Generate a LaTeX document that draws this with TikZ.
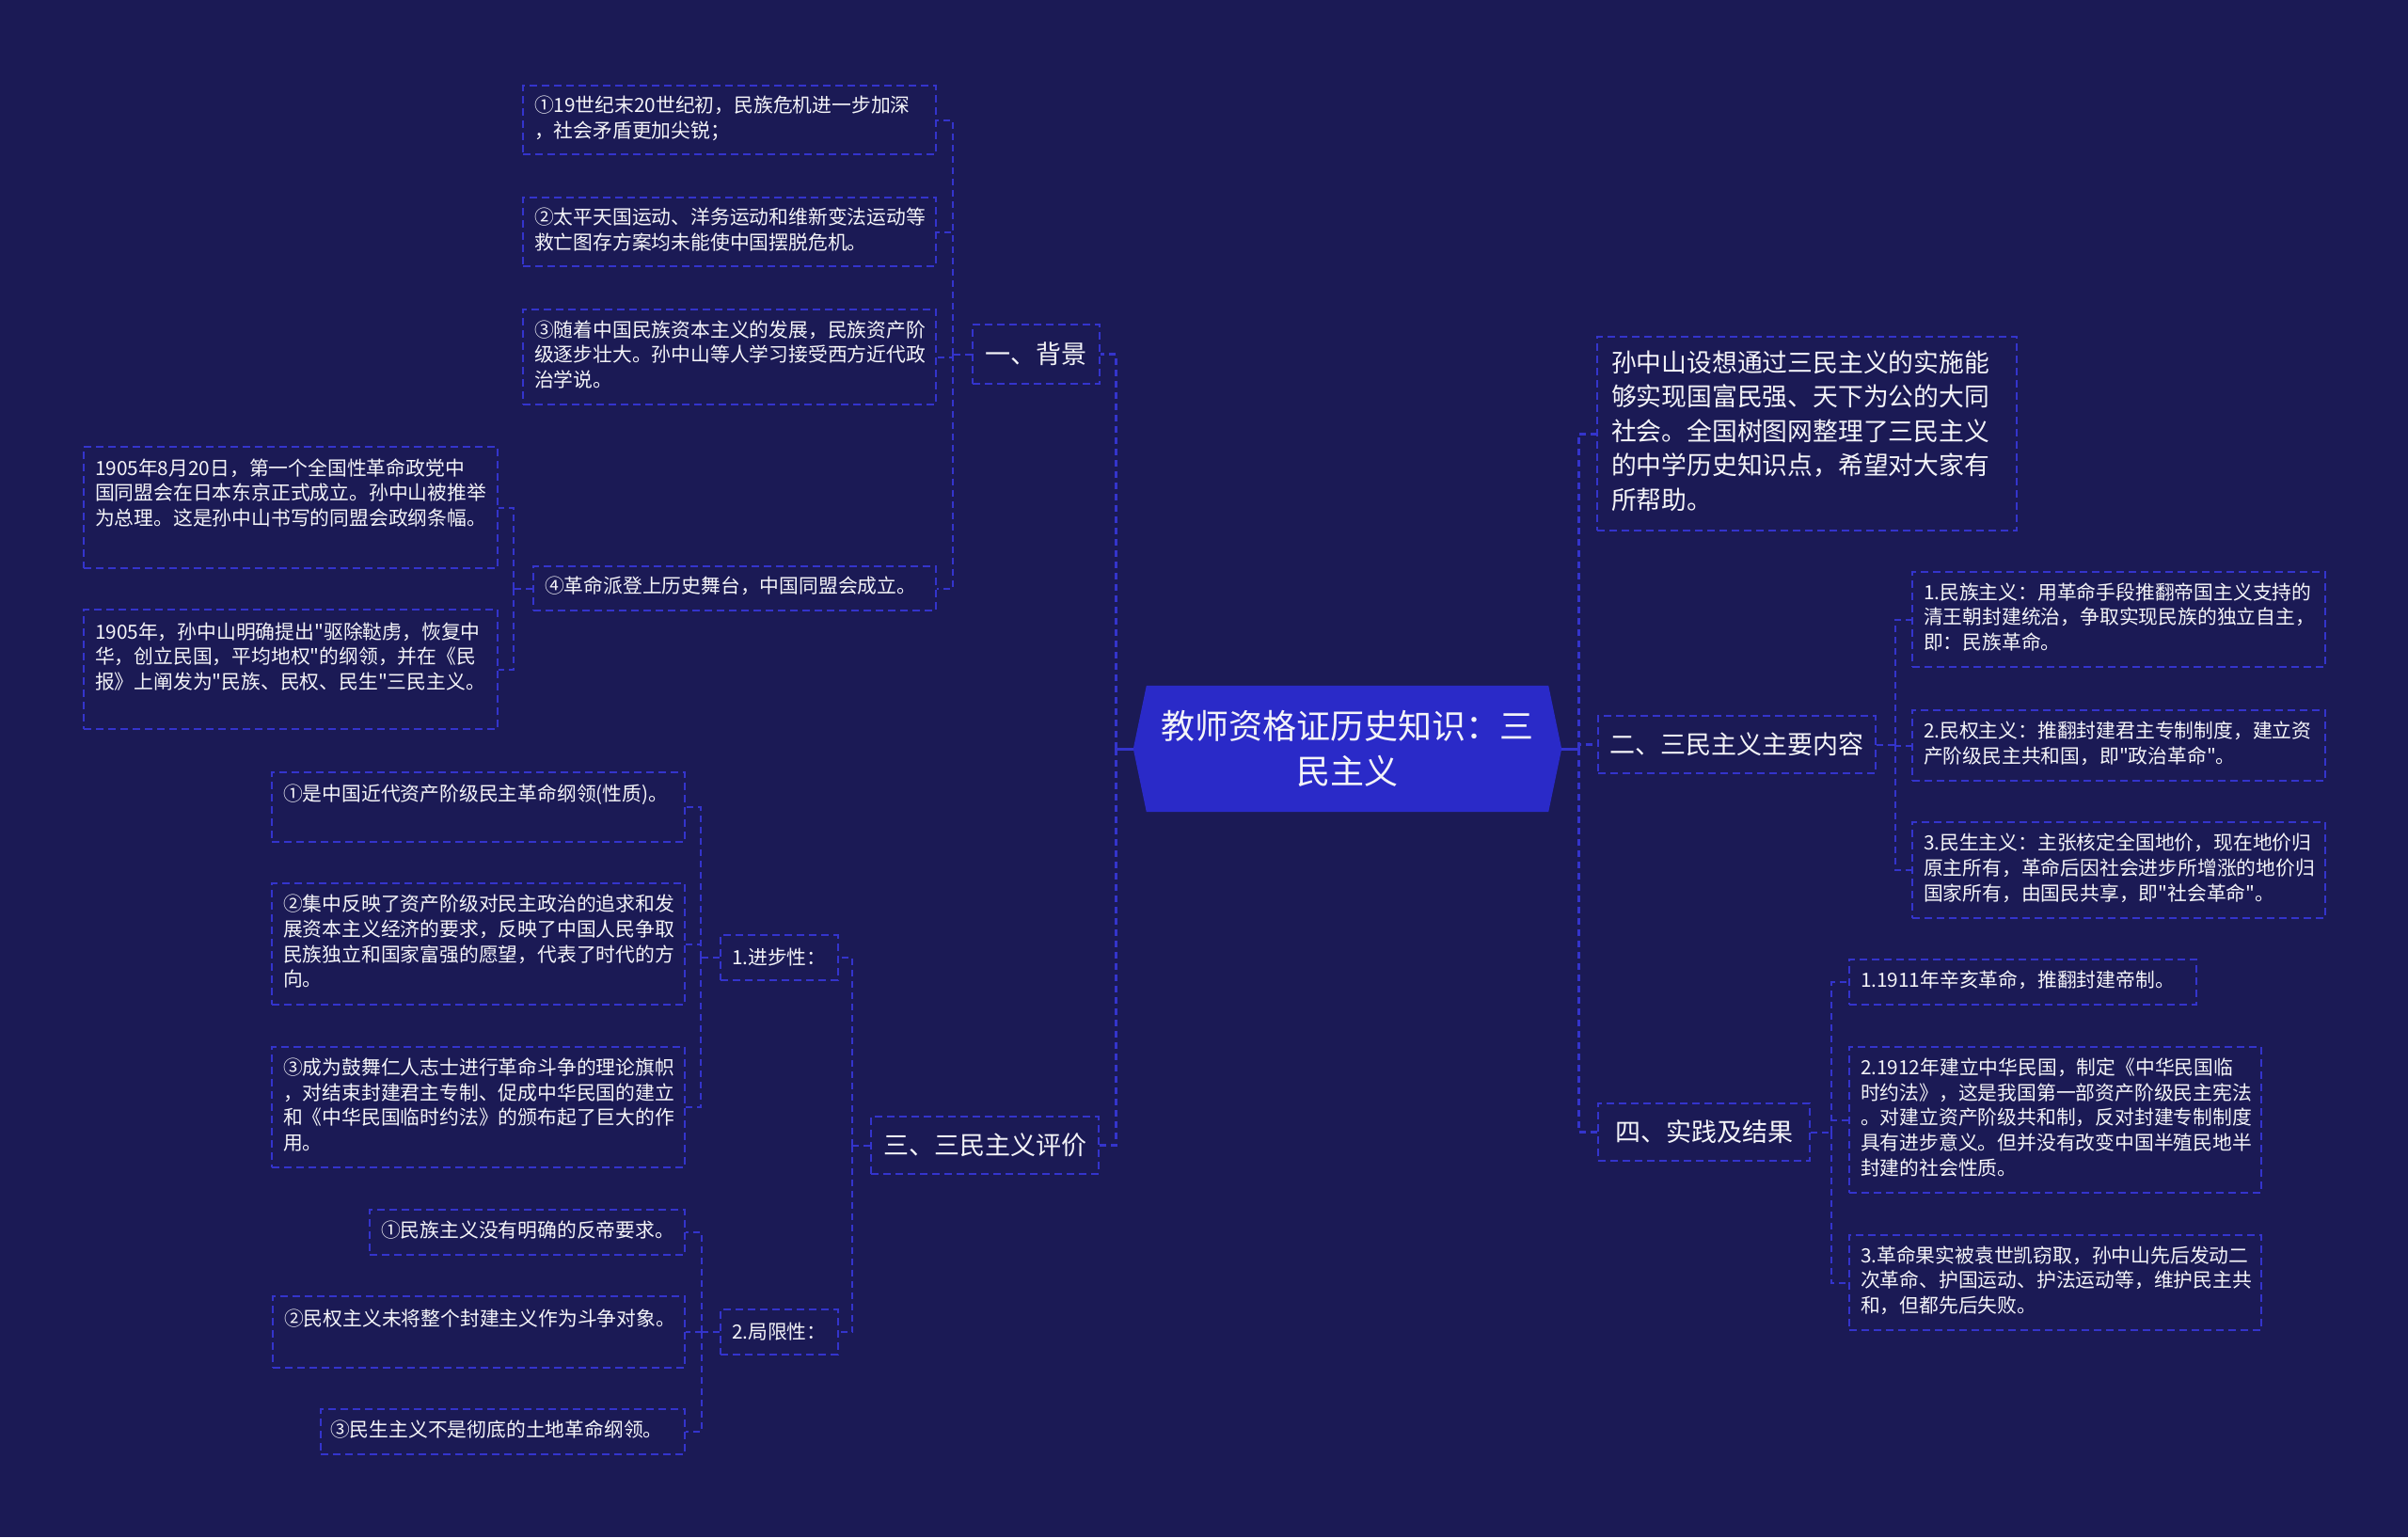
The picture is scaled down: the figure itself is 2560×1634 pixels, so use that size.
\documentclass[tikz,border=0pt]{standalone}
\usepackage{fontspec}
\newfontfamily\cjk{Noto Sans CJK SC}
\usetikzlibrary{calc,backgrounds}
\definecolor{bgc}{HTML}{1B1A55}
\definecolor{linec}{HTML}{3434CC}
\definecolor{ctrc}{HTML}{2A2AC8}
\definecolor{txtc}{HTML}{F4F4F8}
\newcommand\mmlines[2]{\makebox[#1][l]{\begin{tabular}{@{}l@{}}#2\end{tabular}}}
\newcommand\mmgap[1]{\rule[-#1]{0pt}{#1}}
\begin{document}
\begin{tikzpicture}[x=1pt,y=-1pt,
  bx/.style={draw=linec, line width=2pt, dash pattern=on 8pt off 5pt, inner xsep=12pt, inner ysep=0pt,
    anchor=north west, text=txtc, font={\cjk\fontsize{20.8}{26.7}\selectfont}},
  lbl/.style={bx, align=center, font={\cjk\fontsize{27}{32}\selectfont}},
  sm/.style={bx, align=center},
  conn/.style={draw=linec, line width=2pt, dash pattern=on 7pt off 5pt},
  conn1/.style={conn, line width=3pt},
  stub/.style={draw=linec, line width=3pt}]

\begin{scope}[on background layer]
  \fill[bgc] (0,0) rectangle (2560,1634);
\end{scope}
\useasboundingbox (0,0) rectangle (2560,1634);

% central node
\node[minimum width=427pt, minimum height=134pt, inner sep=0pt, text=txtc, align=center,
  font={\cjk\fontsize{36}{48}\selectfont}] (c) at (1432.5,796) {教师资格证历史知识：三\\民主义};
\begin{scope}[on background layer]
  \fill[ctrc] (c.north west) -- (c.north east) -- ($(c.east)+(14,0)$) -- (c.south east)
    -- (c.south west) -- ($(c.west)+(-14,0)$) -- cycle;
\end{scope}

% ---------- left side ----------
\node[lbl, minimum width=135pt, minimum height=63pt] (bg) at (1033,344) {一、背景};
\node[lbl, minimum width=242pt, minimum height=61pt] (pj) at (925,1186) {三、三民主义评价};

\node[bx, minimum width=439pt, minimum height=73pt] (b1) at (555,90)
  {\mmlines{415pt}{①19世纪末20世纪初，民族危机进一步加深\\，社会矛盾更加尖锐；}};
\node[bx, minimum width=439pt, minimum height=73pt] (b2) at (555,209)
  {\mmlines{415pt}{②太平天国运动、洋务运动和维新变法运动等\\救亡图存方案均未能使中国摆脱危机。}};
\node[bx, minimum width=439pt, minimum height=101pt] (b3) at (555,328)
  {\mmlines{415pt}{③随着中国民族资本主义的发展，民族资产阶\\级逐步壮大。孙中山等人学习接受西方近代政\\治学说。}};
\node[bx, minimum width=428pt, minimum height=47pt] (b4) at (566,601)
  {\mmlines{404pt}{④革命派登上历史舞台，中国同盟会成立。}};

\node[bx, minimum width=440pt, minimum height=129pt] (a1) at (88,474)
  {\mmlines{416pt}{1905年8月20日，第一个全国性革命政党中\\国同盟会在日本东京正式成立。孙中山被推举\\为总理。这是孙中山书写的同盟会政纲条幅。\mmgap{34pt}}};
\node[bx, minimum width=440pt, minimum height=127pt] (a2) at (88,647)
  {\mmlines{416pt}{1905年，孙中山明确提出"驱除鞑虏，恢复中\\华，创立民国，平均地权"的纲领，并在《民\\报》上阐发为"民族、民权、民生"三民主义。\mmgap{30pt}}};

\node[sm, minimum width=122pt, minimum height=48pt] (jb) at (765,993) {1.进步性：};
\node[sm, minimum width=122pt, minimum height=48pt] (jx) at (765,1391) {2.局限性：};

\node[bx, minimum width=439pt, minimum height=74pt] (p1) at (288,820)
  {\mmlines{415pt}{①是中国近代资产阶级民主革命纲领(性质)。\mmgap{32pt}}};
\node[bx, minimum width=439pt, minimum height=129pt] (p2) at (288,938)
  {\mmlines{415pt}{②集中反映了资产阶级对民主政治的追求和发\\展资本主义经济的要求，反映了中国人民争取\\民族独立和国家富强的愿望，代表了时代的方\\向。}};
\node[bx, minimum width=439pt, minimum height=128pt] (p3) at (288,1112)
  {\mmlines{415pt}{③成为鼓舞仁人志士进行革命斗争的理论旗帜\\，对结束封建君主专制、促成中华民国的建立\\和《中华民国临时约法》的颁布起了巨大的作\\用。}};

\node[bx, minimum width=335pt, minimum height=48pt] (l1) at (392,1285)
  {\mmlines{311pt}{①民族主义没有明确的反帝要求。}};
\node[bx, minimum width=438pt, minimum height=76pt] (l2) at (289,1377)
  {\mmlines{414pt}{②民权主义未将整个封建主义作为斗争对象。\mmgap{32pt}}};
\node[bx, minimum width=387pt, minimum height=48pt, inner xsep=10pt] (l3) at (340,1497)
  {\mmlines{367pt}{③民生主义不是彻底的土地革命纲领。}};

% ---------- right side ----------
\node[bx, minimum width=446pt, minimum height=206pt, inner xsep=15pt,
  font={\cjk\fontsize{26.8}{36.5}\selectfont}] (intro) at (1697,357)
  {\mmlines{416pt}{孙中山设想通过三民主义的实施能\\够实现国富民强、天下为公的大同\\社会。全国树图网整理了三民主义\\的中学历史知识点，希望对大家有\\所帮助。}};
\node[lbl, minimum width=295pt, minimum height=61pt] (nr) at (1698,760) {二、三民主义主要内容};
\node[lbl, minimum width=225pt, minimum height=61pt] (sj) at (1698,1172) {四、实践及结果};

\node[bx, minimum width=439pt, minimum height=101pt] (r1) at (2032,607)
  {\mmlines{415pt}{1.民族主义：用革命手段推翻帝国主义支持的\\清王朝封建统治，争取实现民族的独立自主，\\即：民族革命。}};
\node[bx, minimum width=439pt, minimum height=75pt] (r2) at (2032,754)
  {\mmlines{415pt}{2.民权主义：推翻封建君主专制制度，建立资\\产阶级民主共和国，即"政治革命"。}};
\node[bx, minimum width=439pt, minimum height=102pt] (r3) at (2032,873)
  {\mmlines{415pt}{3.民生主义：主张核定全国地价，现在地价归\\原主所有，革命后因社会进步所增涨的地价归\\国家所有，由国民共享，即"社会革命"。}};

\node[bx, minimum width=369pt, minimum height=48pt] (s1) at (1965,1019)
  {\mmlines{345pt}{1.1911年辛亥革命，推翻封建帝制。}};
\node[bx, minimum width=438pt, minimum height=155pt] (s2) at (1965,1112)
  {\mmlines{414pt}{2.1912年建立中华民国，制定《中华民国临\\时约法》，这是我国第一部资产阶级民主宪法\\。对建立资产阶级共和制，反对封建专制制度\\具有进步意义。但并没有改变中国半殖民地半\\封建的社会性质。}};
\node[bx, minimum width=438pt, minimum height=101pt] (s3) at (1965,1312)
  {\mmlines{414pt}{3.革命果实被袁世凯窃取，孙中山先后发动二\\次革命、护国运动、护法运动等，维护民主共\\和，但都先后失败。}};

% ---------- connectors ----------
\coordinate (cL) at ($(c.west)+(-14,0)$);
\coordinate (cR) at ($(c.east)+(14,0)$);
\draw[stub] (cL) -- ++(-18,0) coordinate (tL);
\draw[stub] (cR) -- ++(18,0) coordinate (tR);
\draw[conn1] (tL) |- (bg.east);
\draw[conn1] (tL) |- (pj.east);
\draw[conn1] (tR) |- (intro.west);
\draw[conn1] (tR) |- (nr.west);
\draw[conn1] (tR) |- (sj.west);

\draw[conn] (bg.west) -- ++(-20,0) coordinate (tbg);
\foreach \n in {b1,b2,b3,b4} \draw[conn] (tbg) |- (\n.east);
\draw[conn] (b4.west) -- ++(-20,0) coordinate (tb4);
\foreach \n in {a1,a2} \draw[conn] (tb4) |- (\n.east);

\draw[conn] (pj.west) -- ++(-19,0) coordinate (tpj);
\foreach \n in {jb,jx} \draw[conn] (tpj) |- (\n.east);
\draw[conn] (jb.west) -- ++(-20,0) coordinate (tjb);
\foreach \n in {p1,p2,p3} \draw[conn] (tjb) |- (\n.east);
\draw[conn] (jx.west) -- ++(-19,0) coordinate (tjx);
\foreach \n in {l1,l2,l3} \draw[conn] (tjx) |- (\n.east);

\draw[conn] (nr.east) -- ++(20,0) coordinate (tnr);
\foreach \n in {r1,r2,r3} \draw[conn] (tnr) |- (\n.west);
\draw[conn] (sj.east) -- ++(22,0) coordinate (tsj);
\foreach \n in {s1,s2,s3} \draw[conn] (tsj) |- (\n.west);
\end{tikzpicture}
\end{document}
